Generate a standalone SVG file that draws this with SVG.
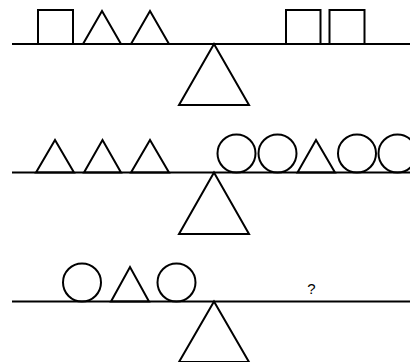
<svg xmlns="http://www.w3.org/2000/svg" width="410" height="362" viewBox="0 0 410 362">
<style>
.s{fill:none;stroke:#000;stroke-width:2;stroke-linejoin:miter}
.t{font-family:"Liberation Sans",Arial,sans-serif;font-size:15px;fill:#000}
</style>
<rect width="410" height="362" fill="#fff"/>
<g id="scale1">
<g id="beam1"><line class="s" x1="12" y1="44" x2="410" y2="44"/></g>
<g id="fulcrum1"><polygon class="s" points="214,44 179,105 249,105"/></g>
<g id="sq1"><rect class="s" x="38" y="10" width="35" height="34"/></g>
<g id="tri1"><polygon class="s" points="83,44 102,11 121,44"/></g>
<g id="tri2"><polygon class="s" points="131,44 150,11 169,44"/></g>
<g id="sq2"><rect class="s" x="286" y="10" width="34.5" height="34"/></g>
<g id="sq3"><rect class="s" x="329.5" y="10" width="35" height="34"/></g>
</g>
<g id="scale2">
<g id="beam2"><line class="s" x1="12" y1="172.5" x2="410" y2="172.5"/></g>
<g id="fulcrum2"><polygon class="s" points="214,172.5 179,234 249,234"/></g>
<g id="tri3"><polygon class="s" points="36,172.5 55,140 74,172.5"/></g>
<g id="tri4"><polygon class="s" points="84,172.5 102.5,140 121,172.5"/></g>
<g id="tri5"><polygon class="s" points="131,172.5 150,140 169,172.5"/></g>
<g id="c1"><circle class="s" cx="236.5" cy="153.5" r="19"/></g>
<g id="c2"><circle class="s" cx="277.5" cy="153.5" r="19"/></g>
<g id="tri6"><polygon class="s" points="297.5,172.5 316,140 335,172.5"/></g>
<g id="c3"><circle class="s" cx="357" cy="153.5" r="19"/></g>
<g id="c4"><circle class="s" cx="397.5" cy="153.5" r="19"/></g>
</g>
<g id="scale3">
<g id="beam3"><line class="s" x1="12" y1="301.5" x2="410" y2="301.5"/></g>
<g id="fulcrum3"><polygon class="s" points="214,301.5 179,362 249,362"/></g>
<g id="c5"><circle class="s" cx="82" cy="282.5" r="19"/></g>
<g id="tri7"><polygon class="s" points="111,301.5 130,267 149,301.5"/></g>
<g id="c6"><circle class="s" cx="176.5" cy="282.5" r="19"/></g>
<g id="q"><text class="t" x="311.5" y="294" text-anchor="middle">?</text></g>
</g>
<g id="connectors"/>
</svg>
